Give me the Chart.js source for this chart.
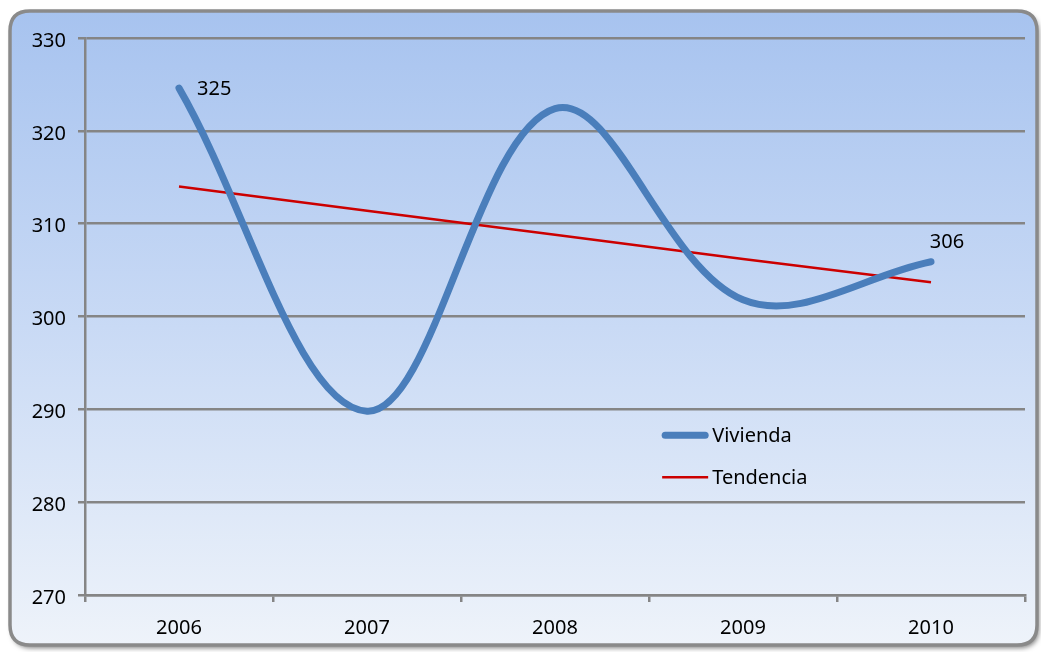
<!DOCTYPE html>
<html>
<head>
<meta charset="utf-8">
<script src="https://cdn.jsdelivr.net/npm/chart.js@4/dist/chart.umd.min.js"></script>
<style>
html,body{margin:0;padding:0;background:#fff;}
#wrap{width:1041px;height:652px;position:relative;}
</style>
</head>
<body>
<div id="wrap"><canvas id="c" width="1041" height="652"></canvas></div>
<script>
const categories = ['2006','2007','2008','2009','2010'];
const vivienda = [324.6, 289.8, 322.4, 301.8, 305.9];
const tendencia = [314.0, 311.4, 308.8, 306.2, 303.7];
const viviendaLabels = ['325', null, null, null, '306'];
const yTicks = [270, 280, 290, 300, 310, 320, 330];

const FONT = '"Noto Sans", sans-serif';

const framePlugin = {
  id: 'frame',
  beforeDraw(chart) {
    const ctx = chart.ctx;
    const x = 10, y = 11, w = 1027, h = 634, r = 20;
    ctx.save();
    ctx.fillStyle = '#ffffff';
    ctx.fillRect(0, 0, chart.width, chart.height);
    function rr() {
      ctx.beginPath();
      ctx.moveTo(x + r, y);
      ctx.lineTo(x + w - r, y);
      ctx.quadraticCurveTo(x + w, y, x + w, y + r);
      ctx.lineTo(x + w, y + h - r);
      ctx.quadraticCurveTo(x + w, y + h, x + w - r, y + h);
      ctx.lineTo(x + r, y + h);
      ctx.quadraticCurveTo(x, y + h, x, y + h - r);
      ctx.lineTo(x, y + r);
      ctx.quadraticCurveTo(x, y, x + r, y);
      ctx.closePath();
    }
    ctx.shadowColor = 'rgba(0,0,0,0.5)';
    ctx.shadowBlur = 5;
    ctx.shadowOffsetX = 2;
    ctx.shadowOffsetY = 3;
    rr();
    const g = ctx.createLinearGradient(0, y, 0, y + h);
    g.addColorStop(0, '#a7c3ef');
    g.addColorStop(0.5, '#c9daf5');
    g.addColorStop(1, '#eef3fa');
    ctx.fillStyle = g;
    ctx.fill();
    ctx.shadowColor = 'transparent';
    ctx.lineWidth = 3.5;
    ctx.strokeStyle = '#8a8a8a';
    rr();
    ctx.stroke();
    ctx.restore();
  }
};

const labelsPlugin = {
  id: 'pointLabels',
  afterDatasetsDraw(chart) {
    const ctx = chart.ctx;
    const meta = chart.getDatasetMeta(0);
    ctx.save();
    ctx.font = '20px ' + FONT;
    ctx.fillStyle = '#000';
    ctx.textBaseline = 'middle';
    viviendaLabels.forEach((t, i) => {
      if (!t) return;
      const p = meta.data[i];
      if (i === 0) {
        ctx.textAlign = 'left';
        ctx.fillText(t, p.x + 18, p.y + 1);
      } else {
        ctx.textAlign = 'center';
        ctx.fillText(t, p.x + 16, p.y - 19);
      }
    });
    ctx.restore();
  }
};

const legendPlugin = {
  id: 'customLegend',
  afterDraw(chart) {
    const ctx = chart.ctx;
    const a = chart.chartArea;
    const x0 = a.left + (a.right - a.left) * 0.614;
    const y0 = a.top + (a.bottom - a.top) * 0.713;
    const gap = 42;
    ctx.save();
    ctx.font = '20px ' + FONT;
    ctx.textBaseline = 'middle';
    ctx.textAlign = 'left';
    chart.data.datasets.forEach((ds, i) => {
      const yy = y0 + i * gap;
      ctx.beginPath();
      ctx.lineCap = ds.borderWidth > 4 ? 'round' : 'butt';
      ctx.strokeStyle = ds.borderColor;
      ctx.lineWidth = ds.borderWidth;
      ctx.moveTo(x0 + (ds.borderWidth > 4 ? 3 : 0), yy);
      ctx.lineTo(x0 + 46 - (ds.borderWidth > 4 ? 3 : 0), yy);
      ctx.stroke();
      ctx.fillStyle = '#000';
      ctx.fillText(ds.label, x0 + 50, yy + 1);
    });
    ctx.restore();
  }
};

new Chart(document.getElementById('c'), {
  type: 'line',
  data: {
    labels: categories,
    datasets: [
      {
        label: 'Vivienda',
        data: vivienda,
        borderColor: '#4a7ebb',
        borderWidth: 7,
        borderCapStyle: 'round',
        borderJoinStyle: 'round',
        tension: 0.36,
        pointRadius: 0,
        fill: false
      },
      {
        label: 'Tendencia',
        data: tendencia,
        borderColor: '#cc0000',
        borderWidth: 2.5,
        tension: 0,
        pointRadius: 0,
        fill: false
      }
    ]
  },
  options: {
    responsive: false,
    animation: false,
    devicePixelRatio: 1,
    layout: { padding: { left: 0, right: 16, top: 38, bottom: 0 } },
    plugins: {
      legend: { display: false },
      tooltip: { enabled: false }
    },
    scales: {
      x: {
        offset: true,
        grid: {
          offset: true,
          drawOnChartArea: false,
          drawTicks: true,
          tickLength: 7,
          color: '#858585',
          lineWidth: 2.5
        },
        border: { display: true, color: '#858585', width: 2.5 },
        ticks: { color: '#000', font: { family: FONT, size: 20 }, padding: 14, maxRotation: 0 },
        afterFit(s) { s.height = 57; }
      },
      y: {
        min: 270,
        max: 330,
        afterBuildTicks(s) { s.ticks = yTicks.map(v => ({ value: v })); },
        grid: {
          color: '#858585',
          lineWidth: 2.5,
          tickLength: 7,
          drawTicks: true
        },
        border: { display: true, color: '#858585', width: 2.5 },
        ticks: { color: '#000', font: { family: FONT, size: 20 }, padding: 12, labelOffset: 3 },
        afterFit(s) { s.width = 85; }
      }
    }
  },
  plugins: [framePlugin, labelsPlugin, legendPlugin]
});
</script>
</body>
</html>
